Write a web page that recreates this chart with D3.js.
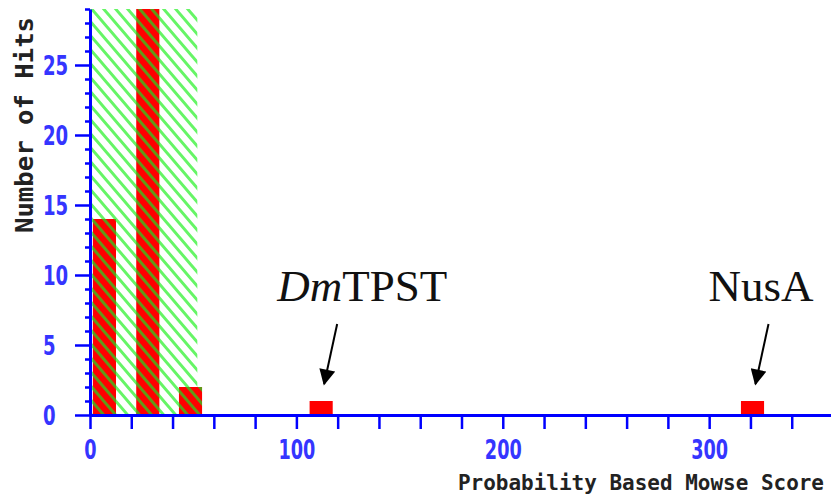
<!DOCTYPE html>
<html>
<head>
<meta charset="utf-8">
<script src="https://cdn.jsdelivr.net/npm/d3@7"></script>
<style>
  body { margin: 0; background: #fff; }
  svg { display: block; }
</style>
</head>
<body>
<div id="chart"></div>
<script>
// histogram of mascot scores
const scores = [7, 28, 48.7, 112, 321];
const hits = [14, 29, 2, 1, 1];
const threshold = 52;           // hatched (non significant) zone
const labels = [
  { score: 112, name: "TPST", prefix: "Dm" },
  { score: 321, name: "NusA", prefix: "" }
];
const xTicks = d3.range(0, 361, 20);
const yTicks = d3.range(0, 30, 1);

const width = 831, height = 503;
const binW = 11.2; // bar width in score units

const svg = d3.select("#chart").append("svg")
  .attr("width", width)
  .attr("height", height);

const x = d3.scaleLinear().domain([0, 360]).range([90, 833]);
const y = d3.scaleLinear().domain([0, 29]).range([415, 9]);

let defs = svg.append("defs");

function hatch(id, bg, stroke) {
  let p = defs.append("pattern")
    .attr("id", id)
    .attr("patternUnits", "userSpaceOnUse")
    .attr("width", 12)
    .attr("height", 14);
  if (bg) p.append("rect").attr("width", 12).attr("height", 14).attr("fill", bg);
  p.append("path")
    .attr("d", "M-12,-14L24,28M-24,-14L12,28M0,-14L36,28")
    .attr("stroke", stroke)
    .attr("stroke-width", 3)
    .attr("fill", "none");
}
hatch("hatchLight", null, "#66f566");
hatch("hatchBar", "#ff0000", "#5f9a18");

// hatched zone
svg.append("rect")
  .attr("x", x(0))
  .attr("y", y(29))
  .attr("width", x(threshold) - x(0))
  .attr("height", y(0) - y(29))
  .attr("fill", "url(#hatchLight)");

// bars
svg.selectAll("rect.bar")
  .data(scores)
  .enter()
  .append("rect")
    .attr("class", "bar")
    .attr("x", d => x(d - binW / 2))
    .attr("y", (d, i) => y(hits[i]))
    .attr("width", d => x(binW) - x(0))
    .attr("height", (d, i) => y(0) - y(hits[i]))
    .attr("fill", d => d < threshold ? "url(#hatchBar)" : "#ff0000");

// y axis
let gy = svg.append("g")
  .attr("transform", `translate(${x(0)},0)`)
  .call(d3.axisLeft(y).tickValues(yTicks).tickSize(15).tickSizeOuter(0)
    .tickFormat(d => d % 5 === 0 ? d : ""));
gy.selectAll(".tick line")
  .attr("x2", d => d % 5 === 0 ? -15 : -5);
gy.selectAll(".tick text")
  .attr("x", 43 - x(0))
  .attr("dy", "0.36em")
  .attr("text-anchor", "start")
  .attr("font-family", "DejaVu Sans")
  .attr("font-weight", "bold")
  .attr("font-size", 27)
  .attr("lengthAdjust", "spacingAndGlyphs")
  .attr("textLength", d => String(d).length * 12.6);

// x axis
let gx = svg.append("g")
  .attr("transform", `translate(0,${y(0)})`)
  .call(d3.axisBottom(x).tickValues(xTicks).tickSize(14).tickSizeOuter(0)
    .tickFormat(d => d % 100 === 0 ? d : ""));
gx.selectAll(".tick text")
  .attr("y", 44)
  .attr("dy", 0)
  .attr("font-family", "DejaVu Sans")
  .attr("font-weight", "bold")
  .attr("font-size", 27)
  .attr("lengthAdjust", "spacingAndGlyphs")
  .attr("textLength", d => d % 100 === 0 ? String(d).length * 12.3 : 0);

svg.selectAll(".domain").attr("stroke", "#0000ff").attr("stroke-width", 3);
svg.selectAll(".tick line").attr("stroke", "#0000ff").attr("stroke-width", 2.5);
svg.selectAll(".tick text").attr("fill", "#3535ff");

// axis titles
svg.append("text")
  .attr("transform", "translate(33,125) rotate(-90)")
  .attr("text-anchor", "middle")
  .attr("font-family", "DejaVu Sans Mono")
  .attr("font-weight", "bold")
  .attr("font-size", 25)
  .attr("fill", "#222")
  .attr("lengthAdjust", "spacingAndGlyphs")
  .attr("textLength", 216)
  .text("Number of Hits");

svg.append("text")
  .attr("x", 458)
  .attr("y", 490)
  .attr("font-family", "DejaVu Sans Mono")
  .attr("font-weight", "bold")
  .attr("font-size", 21)
  .attr("fill", "#222")
  .attr("lengthAdjust", "spacingAndGlyphs")
  .attr("textLength", 366)
  .text("Probability Based Mowse Score");

// annotations
defs.append("marker")
  .attr("id", "head")
  .attr("viewBox", "0 0 10 10")
  .attr("refX", 9).attr("refY", 5)
  .attr("markerWidth", 9).attr("markerHeight", 8)
  .attr("markerUnits", "strokeWidth")
  .attr("orient", "auto")
  .append("path")
    .attr("d", "M0,0L10,5L0,10Z")
    .attr("fill", "#000");

let ann = svg.selectAll("g.ann")
  .data(labels)
  .enter()
  .append("g")
    .attr("class", "ann");

ann.append("line")
  .attr("x1", d => x(d.score) + 16)
  .attr("y1", y(1) - 77)
  .attr("x2", d => x(d.score) + 3)
  .attr("y2", y(1) - 17)
  .attr("stroke", "#000")
  .attr("stroke-width", 2)
  .attr("marker-end", "url(#head)");

let t = ann.append("text")
  .attr("x", d => x(d.score) - 44)
  .attr("y", y(1) - 100)
  .attr("font-family", "Liberation Serif")
  .attr("font-size", 45)
  .attr("fill", "#111");
t.append("tspan")
  .attr("font-style", "italic")
  .text(d => d.prefix);
t.append("tspan")
  .text(d => d.name);
</script>
</body>
</html>
